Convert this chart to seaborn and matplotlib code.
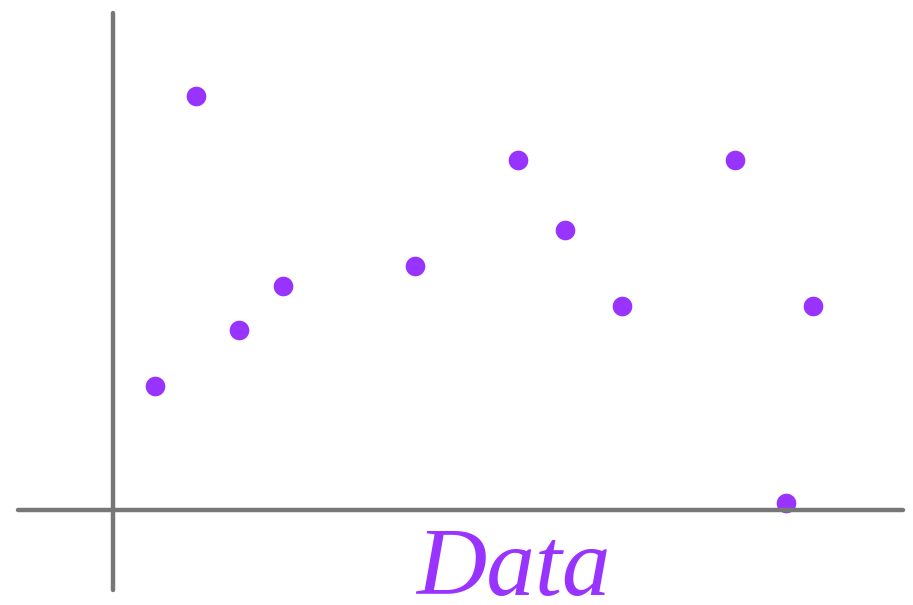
#load additional python modules
import matplotlib
matplotlib.use("Agg")
import matplotlib.pyplot as plt
import seaborn as sns
import pandas as pd

#data (arbitrary units, origin at the axis crossing)
x_vals = [4.2, 8.3, 12.6, 17.0, 30.2, 40.5, 45.2, 50.9, 62.2, 67.3, 70.0]
y_vals = [12.4, 41.4, 18.0, 22.4, 24.4, 35.0, 28.0, 20.4, 35.0, 0.7, 20.4]
label = "Data"

df = pd.DataFrame({"x": x_vals, "y": y_vals})

sns.set_style("white")

#define plot
fig = plt.figure(figsize=(9.13, 6.05), dpi=100)
ax = fig.add_axes([0, 0, 1, 1])
sns.scatterplot(x="x", y="y", data=df, color="#9933ff", s=200, linewidth=0, ax=ax)

ax.set_xlim(-11.3, 80.0)
ax.set_ylim(-9.5, 51.0)

#axes drawn as two grey lines
ax.axhline(0, xmin=18/913, xmax=903/913, color="#777777", linewidth=3.2, zorder=1)
ax.axvline(0, ymin=15/605, ymax=592/605, color="#777777", linewidth=3.2, zorder=1)

ax.text(40.0, -6.2, label, ha="center", va="center", color="#9933ff",
        fontsize=70, style="italic", family=["Liberation Serif", "DejaVu Serif"])

for s in ax.spines.values():
    s.set_visible(False)
ax.set_xticks([])
ax.set_yticks([])
ax.set_xlabel("")
ax.set_ylabel("")

fig.savefig("out.png", dpi=100)
